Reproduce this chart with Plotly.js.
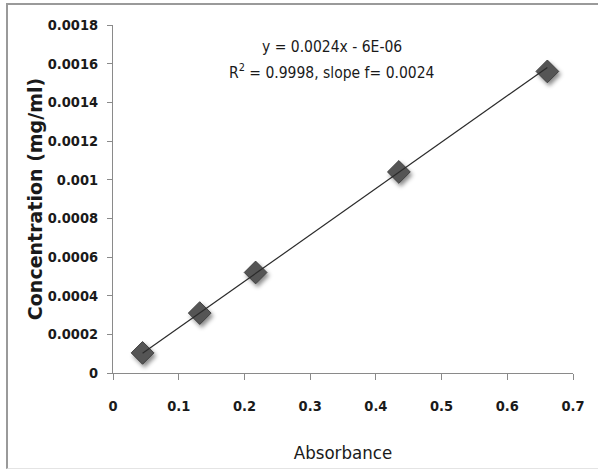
<!DOCTYPE html>
<html>
<head>
<meta charset="utf-8">
<script src="https://cdn.plot.ly/plotly-3.0.1.min.js"></script>
<style>
  html, body { margin: 0; padding: 0; background: #ffffff; }
  #frame {
    position: absolute; left: 6px; top: 3px; width: 600px; height: 466px;
    border-left: 2px solid #9a9a9a; border-top: 2px solid #9a9a9a;
    border-bottom: 1px solid #e4e4e4; box-sizing: border-box;
  }
  #chart { position: absolute; left: 0; top: 0; width: 598px; height: 473px; }
</style>
</head>
<body>
<div id="frame"></div>
<div id="chart"></div>
<script>
// Calibration data: absorbance vs concentration (mg/ml)
const absorbance = [0.045, 0.132, 0.217, 0.435, 0.661];
const concentration = [0.000104, 0.00031, 0.00052, 0.00104, 0.00156];

// Linear fit reported on the chart
const fitSlope = 0.0024;
const fitIntercept = -0.000006;
const fitLines = ["y = 0.0024x - 6E-06", "R<sup>2</sup> = 0.9998, slope f= 0.0024"];

// Axis ticks
const xTicks = [0, 0.1, 0.2, 0.3, 0.4, 0.5, 0.6, 0.7];
const yTicks = [0, 0.0002, 0.0004, 0.0006, 0.0008, 0.001, 0.0012, 0.0014, 0.0016, 0.0018];
const yTickText = ["0", "0.0002", "0.0004", "0.0006", "0.0008", "0.001", "0.0012", "0.0014", "0.0016", "0.0018"];

// Trend line spans the measured absorbance range
const xFit = [Math.min(...absorbance), Math.max(...absorbance)];
const yFit = xFit.map(x => fitSlope * x + fitIntercept);

const condensed = "DejaVu Sans Condensed, DejaVu Sans, sans-serif";
const tickFont = { family: condensed, size: 14.5, color: "#1a1a1a", weight: 700 };

const traces = [
  {
    x: absorbance, y: concentration, type: "scatter", mode: "markers",
    marker: { symbol: "diamond", size: 17.5, color: "#555555",
              line: { color: "#404040", width: 1 } },
    hoverinfo: "skip", showlegend: false
  },
  {
    x: xFit, y: yFit, type: "scatter", mode: "lines",
    line: { color: "#2b2b2b", width: 1.2 },
    hoverinfo: "skip", showlegend: false
  }
];

const layout = {
  width: 598, height: 473,
  margin: { l: 113, r: 25, t: 25, b: 100 },
  paper_bgcolor: "rgba(0,0,0,0)", plot_bgcolor: "rgba(0,0,0,0)",
  showlegend: false,
  xaxis: {
    range: [0, 0.7], tickvals: xTicks, ticktext: xTicks.map(String),
    showgrid: false, zeroline: false, showline: true, linecolor: "#8a8a8a", linewidth: 1,
    ticks: "outside", ticklen: 6, tickcolor: "#8a8a8a", tickwidth: 1,
    tickfont: tickFont, ticklabelstandoff: 14,
    title: { text: "Absorbance", font: { family: condensed, size: 18.5, color: "#1a1a1a" }, standoff: 32 }
  },
  yaxis: {
    range: [0, 0.0018], tickvals: yTicks, ticktext: yTickText,
    showgrid: false, zeroline: false, showline: true, linecolor: "#8a8a8a", linewidth: 1,
    ticks: "outside", ticklen: 5, tickcolor: "#8a8a8a", tickwidth: 1,
    tickfont: tickFont, ticklabelstandoff: 6,
    title: { text: "Concentration (mg/ml)", font: { family: "DejaVu Sans, sans-serif", size: 19, color: "#1a1a1a", weight: 700 }, standoff: 0 }
  },
  annotations: [
    {
      xref: "paper", yref: "paper", x: 0.476, y: 0.937, xanchor: "center", yanchor: "middle",
      text: fitLines[0], showarrow: false,
      font: { family: condensed, size: 15.5, color: "#1a1a1a" }
    },
    {
      xref: "paper", yref: "paper", x: 0.476, y: 0.865, xanchor: "center", yanchor: "middle",
      text: fitLines[1], showarrow: false,
      font: { family: condensed, size: 15.5, color: "#1a1a1a" }
    }
  ]
};

Plotly.newPlot("chart", traces, layout, { staticPlot: true }).then(gd => {
  // soft drop shadow under the diamond markers
  gd.querySelectorAll(".scatterlayer .trace:first-child path.point").forEach(p => {
    p.style.filter = "drop-shadow(2px 3px 2px rgba(0,0,0,0.45))";
  });
});
</script>
</body>
</html>
